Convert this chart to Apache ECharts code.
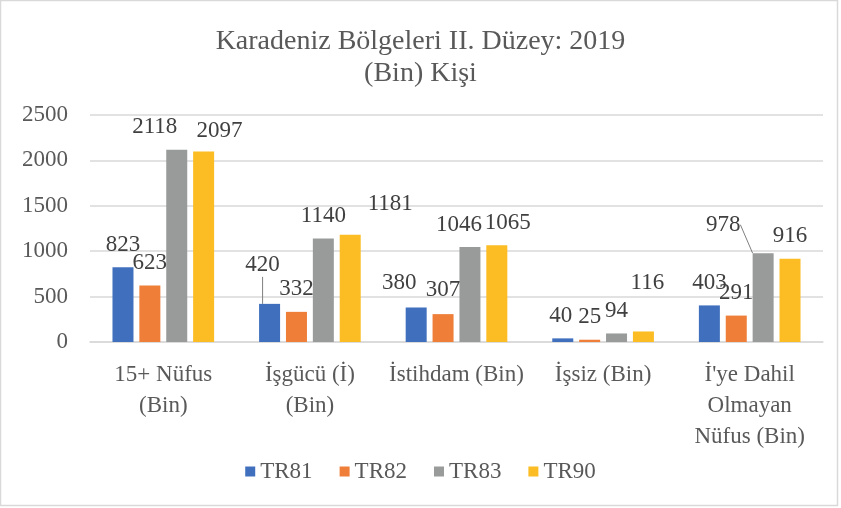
<!DOCTYPE html>
<html>
<head>
<meta charset="utf-8">
<script src="https://cdn.jsdelivr.net/npm/echarts@6/dist/echarts.min.js"></script>
<style>
  html, body { margin: 0; padding: 0; background: #fff; }
  #main { width: 841px; height: 508px; }
</style>
</head>
<body>
<div id="main"></div>
<script>
const categories = ['15+ Nüfus\n(Bin)', 'İşgücü (İ)\n(Bin)', 'İstihdam (Bin)', 'İşsiz (Bin)', "İ'ye Dahil\nOlmayan\nNüfus (Bin)"];
const seriesNames = ['TR81', 'TR82', 'TR83', 'TR90'];
const tr81 = [823, 420, 380, 40, 403];
const tr82 = [623, 332, 307, 25, 291];
const tr83 = [2118, 1140, 1046, 94, 978];
const tr90 = [2097, 1181, 1065, 116, 916];
const yTicks = [0, 500, 1000, 1500, 2000, 2500];

const colors = ['#4070bd', '#ee7e38', '#999b9b', '#fbbd23'];
const serif = '"Liberation Serif", "DejaVu Serif", serif';

// label nudges (dx, dy) like the hand moved labels in the original
const labelShift = [
  [[0, 0], [-7, -16], [-17, -2], [-2, 0], [0, 0]],
  [[0, 0], [0, 0], [0, -2], [0, 0], [0, 0]],
  [[-22, 0], [0, 0], [-11, 0], [0, 0], [-40, -6]],
  [[16, 2], [40, -8], [11, 0], [4, -26], [0, 0]]
];
const withLine = { '0-1': true, '2-4': true };

const chart = echarts.init(document.getElementById('main'));

function makeSeries(name, values, idx) {
  return {
    name: name,
    type: 'bar',
    barWidth: 21,
    barGap: '28%',
    itemStyle: { color: colors[idx] },
    label: {
      show: true,
      position: 'top',
      distance: 11,
      color: '#404040',
      fontFamily: serif,
      fontSize: 23
    },
    labelLine: { show: false },
    labelLayout: function (p) {
      const s = labelShift[p.seriesIndex][p.dataIndex];
      return { dx: s[0], dy: s[1] };
    },
    data: values.map(function (v, i) {
      if (withLine[idx + '-' + i]) {
        return { value: v, labelLine: { show: true, lineStyle: { color: '#7f7f7f', width: 1 } } };
      }
      return v;
    })
  };
}

chart.setOption({
  animation: false,
  textStyle: { fontFamily: serif },
  title: {
    text: 'Karadeniz Bölgeleri II. Düzey: 2019\n(Bin) Kişi',
    left: 'center',
    top: 21,
    textStyle: {
      fontFamily: serif,
      fontSize: 28,
      fontWeight: 'normal',
      color: '#595959',
      lineHeight: 32
    }
  },
  legend: {
    data: seriesNames,
    bottom: 20,
    left: 'center',
    icon: 'rect',
    itemWidth: 10,
    itemHeight: 10,
    itemGap: 27,
    formatter: '{s|{name}}',
    textStyle: {
      fontFamily: serif,
      fontSize: 23,
      color: '#595959',
      rich: { s: { fontFamily: serif, fontSize: 23, color: '#595959' } }
    }
  },
  grid: { left: 90, right: 18, top: 115, bottom: 166 },
  xAxis: {
    type: 'category',
    data: categories,
    axisTick: { show: false },
    axisLine: { lineStyle: { color: '#d9d9d9', width: 1.5 } },
    axisLabel: {
      interval: 0,
      margin: 17,
      fontFamily: serif,
      fontSize: 23,
      lineHeight: 31,
      color: '#595959'
    }
  },
  yAxis: {
    type: 'value',
    min: yTicks[0],
    max: yTicks[yTicks.length - 1],
    interval: 500,
    axisLine: { show: false },
    axisTick: { show: false },
    splitLine: { lineStyle: { color: '#d9d9d9', width: 1.5 } },
    axisLabel: {
      margin: 22,
      fontFamily: serif,
      fontSize: 23,
      color: '#595959',
      formatter: function (v) { return String(v); }
    }
  },
  graphic: [{
    type: 'rect',
    shape: { x: 0.5, y: 0.5, width: 837, height: 505 },
    style: { fill: 'none', stroke: '#d9d9d9', lineWidth: 1.5 },
    silent: true
  }],
  series: [
    makeSeries(seriesNames[0], tr81, 0),
    makeSeries(seriesNames[1], tr82, 1),
    makeSeries(seriesNames[2], tr83, 2),
    makeSeries(seriesNames[3], tr90, 3)
  ]
});
</script>
</body>
</html>
